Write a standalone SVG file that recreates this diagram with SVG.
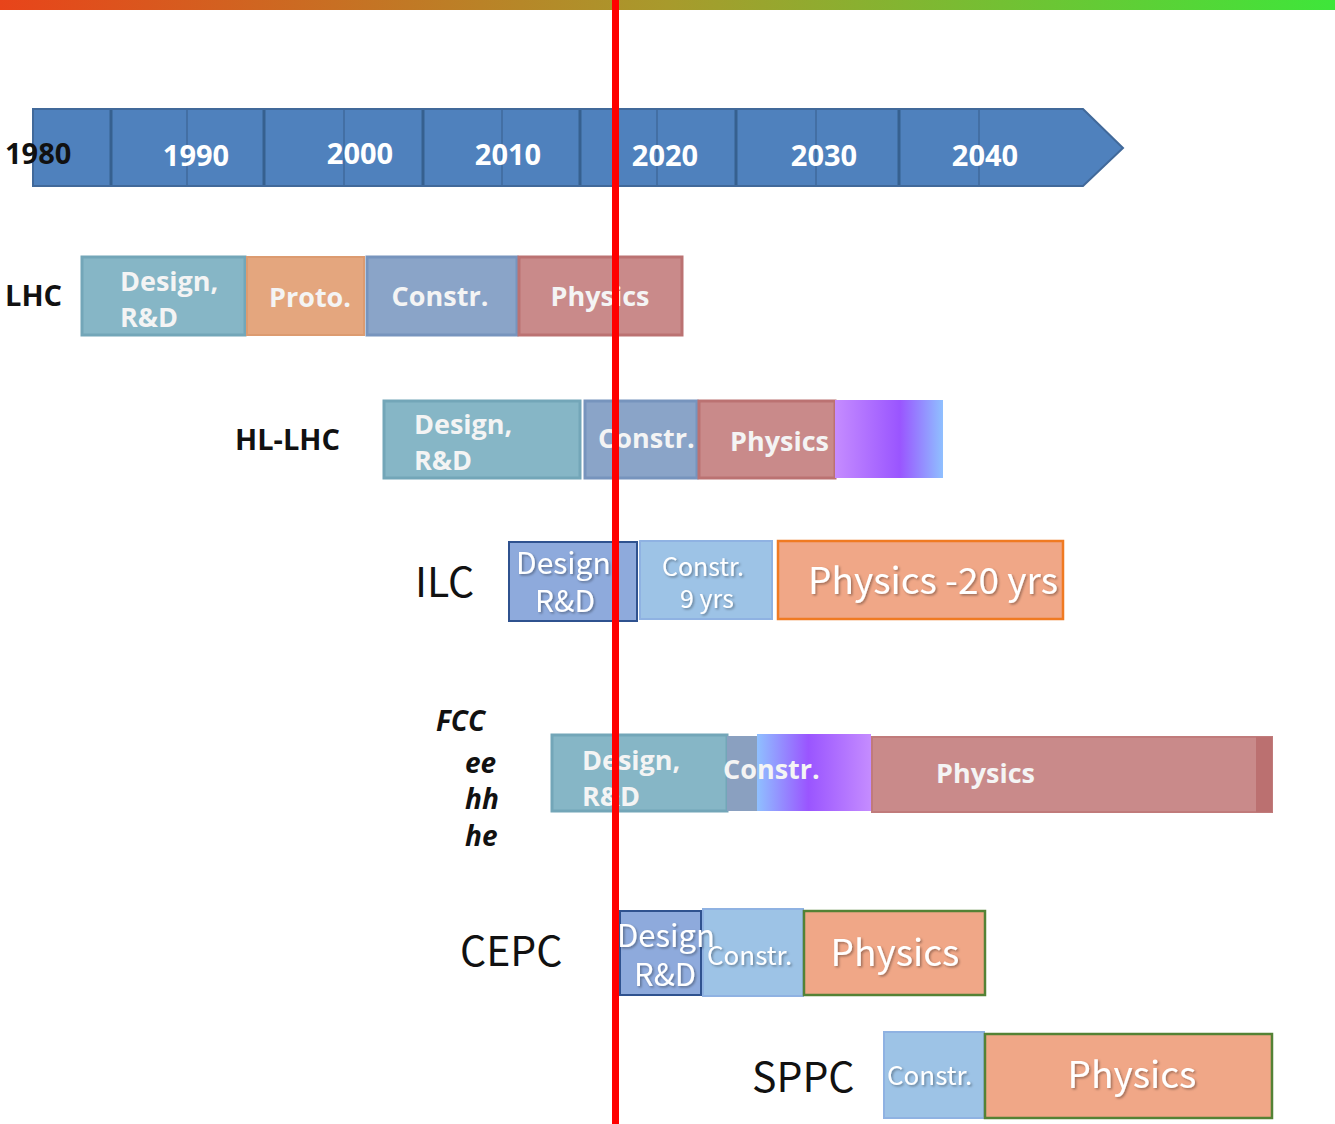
<svg xmlns="http://www.w3.org/2000/svg" width="1335" height="1124" viewBox="0 0 1335 1124">
<defs>
<linearGradient id="topbar" x1="0" y1="0" x2="1" y2="0">
<stop offset="0" stop-color="#e8441a"/>
<stop offset="0.5" stop-color="#a89a2c"/>
<stop offset="1" stop-color="#3ee63a"/>
</linearGradient>
<linearGradient id="gradHL" x1="0" y1="0" x2="1" y2="0">
<stop offset="0" stop-color="#c58cff"/>
<stop offset="0.6" stop-color="#9a55ff"/>
<stop offset="1" stop-color="#8fc0ff"/>
</linearGradient>
<linearGradient id="gradFCC" x1="0" y1="0" x2="1" y2="0">
<stop offset="0" stop-color="#8fc0ff"/>
<stop offset="0.45" stop-color="#9a55ff"/>
<stop offset="1" stop-color="#c58cff"/>
</linearGradient>
<filter id="sh" x="-10%" y="-10%" width="120%" height="130%">
<feDropShadow dx="1.5" dy="1.5" stdDeviation="1" flood-color="#000" flood-opacity="0.35"/>
</filter>
<style>
.yr{font-family:"Open Sans","Liberation Sans",sans-serif;font-weight:700;font-size:29px;fill:#fff}
.lbl{font-family:"Open Sans","Liberation Sans",sans-serif;font-weight:700;font-size:29px;fill:#111}
.bt{font-family:"Open Sans","Liberation Sans",sans-serif;font-weight:700;font-size:27px;fill:#f4f4f4}
.big{font-family:"Noto Sans CJK KR","Noto Sans",sans-serif;font-weight:400;font-size:41px;fill:#111}
.wt{font-family:"Noto Sans CJK KR","Noto Sans",sans-serif;font-weight:400;fill:#fff;filter:url(#sh)}
.it{font-family:"Open Sans","Liberation Sans",sans-serif;font-weight:700;font-style:italic;font-size:28px;fill:#111}
.teal{fill:#86b6c6;stroke:#73a6b8;stroke-width:3}
.tan{fill:#e4a67e;stroke:#dc9b70;stroke-width:2}
.bg{fill:#8aa4c8;stroke:#7794bd;stroke-width:3}
.ros{fill:#c98a8a;stroke:#bb7272;stroke-width:3}
.dblue{fill:#8eaadc;stroke:#2f528f;stroke-width:2}
.lblue{fill:#9dc3e6;stroke:#8fb2e2;stroke-width:2}
.salo{fill:#f0a787;stroke:#f07a22;stroke-width:2.5}
.salg{fill:#f0a787;stroke:#548235;stroke-width:2.5}
.div1{stroke:#36608f;stroke-width:3}
.div2{stroke:#3f6a9c;stroke-width:1.5}
</style>
</defs>
<rect x="0" y="0" width="1335" height="1124" fill="#fff"/>
<rect x="0" y="0" width="1335" height="10" fill="url(#topbar)"/>

<g id="timeline">
<path d="M33,109 L1083,109 L1123,148 L1083,186 L33,186 Z" fill="#4f81bd" stroke="#41699a" stroke-width="2"/>
<g>
<line class="div1" x1="111" y1="110" x2="111" y2="185"/>
<line class="div2" x1="187" y1="110" x2="187" y2="185"/>
<line class="div1" x1="264" y1="110" x2="264" y2="185"/>
<line class="div2" x1="344" y1="110" x2="344" y2="185"/>
<line class="div1" x1="423" y1="110" x2="423" y2="185"/>
<line class="div2" x1="502" y1="110" x2="502" y2="185"/>
<line class="div1" x1="580" y1="110" x2="580" y2="185"/>
<line class="div2" x1="657" y1="110" x2="657" y2="185"/>
<line class="div1" x1="736" y1="110" x2="736" y2="185"/>
<line class="div2" x1="816" y1="110" x2="816" y2="185"/>
<line class="div1" x1="899" y1="110" x2="899" y2="185"/>
<line class="div2" x1="979" y1="110" x2="979" y2="185"/>
</g>
<text x="5" y="164" class="lbl">1980</text>
<text x="196" y="166" class="yr" text-anchor="middle">1990</text>
<text x="360" y="164" class="yr" text-anchor="middle">2000</text>
<text x="508" y="165" class="yr" text-anchor="middle">2010</text>
<text x="665" y="166" class="yr" text-anchor="middle">2020</text>
<text x="824" y="166" class="yr" text-anchor="middle">2030</text>
<text x="985" y="166" class="yr" text-anchor="middle">2040</text>
</g>

<g id="lhc">
<text x="5" y="306" class="lbl">LHC</text>
<rect class="teal" x="82" y="257" width="163" height="78"/>
<rect class="tan" x="247" y="257" width="117" height="78"/>
<rect class="bg" x="367" y="257" width="150" height="78"/>
<rect class="ros" x="519" y="257" width="163" height="78"/>
<text x="120" y="291" class="bt">Design,</text>
<text x="120" y="327" class="bt">R&amp;D</text>
<text x="310" y="307" class="bt" text-anchor="middle">Proto.</text>
<text x="440" y="306" class="bt" text-anchor="middle">Constr.</text>
<text x="600" y="306" class="bt" text-anchor="middle">Physics</text>
</g>

<g id="hl-lhc">
<text x="235" y="450" class="lbl">HL-LHC</text>
<rect class="teal" x="384" y="401" width="196" height="77"/>
<rect class="bg" x="585" y="401" width="112" height="77"/>
<rect class="ros" x="699" y="401" width="136" height="77"/>
<rect x="835" y="400" width="108" height="78" fill="url(#gradHL)"/>
<text x="414" y="434" class="bt">Design,</text>
<text x="414" y="470" class="bt">R&amp;D</text>
<text x="598" y="448" class="bt">Constr.</text>
<text x="730" y="451" class="bt">Physics</text>
</g>

<g id="ilc">
<text x="415" y="597" class="big">ILC</text>
<rect class="dblue" x="509" y="542" width="128" height="79"/>
<rect class="lblue" x="640" y="541" width="132" height="78"/>
<rect class="salo" x="778" y="541" width="285" height="78"/>
<text x="516" y="574" class="wt" font-size="30">Design</text>
<text x="565" y="612" class="wt" font-size="30" text-anchor="middle">R&amp;D</text>
<text x="703" y="576" class="wt" font-size="25" text-anchor="middle">Constr.</text>
<text x="707" y="608" class="wt" font-size="25" text-anchor="middle">9 yrs</text>
<text x="808" y="594" class="wt" font-size="37">Physics -20 yrs</text>
</g>

<g id="fcc">
<text x="436" y="731" class="it">FCC</text>
<text x="465" y="773" class="it">ee</text>
<text x="465" y="809" class="it">hh</text>
<text x="465" y="846" class="it">he</text>
<rect class="teal" x="552" y="735" width="175" height="76"/>
<rect x="727" y="736" width="30" height="75" fill="#8aa0c0"/>
<rect x="757" y="734" width="114" height="77" fill="url(#gradFCC)"/>
<rect x="872" y="737" width="400" height="75" fill="#c98a8a" stroke="#c07b7b" stroke-width="2"/>
<rect x="1256" y="737" width="16" height="75" fill="#bb7070"/>
<text x="582" y="770" class="bt">Design,</text>
<text x="582" y="806" class="bt">R&amp;D</text>
<text x="723" y="779" class="bt">Constr.</text>
<text x="936" y="783" class="bt">Physics</text>
</g>

<g id="cepc">
<text x="460" y="966" class="big">CEPC</text>
<rect class="dblue" x="620" y="911" width="81" height="84"/>
<rect class="lblue" x="703" y="909" width="100" height="87"/>
<rect class="salg" x="804" y="911" width="181" height="84"/>
<text x="617" y="947" class="wt" font-size="31">Design</text>
<text x="665" y="986" class="wt" font-size="31" text-anchor="middle">R&amp;D</text>
<text x="707" y="965" class="wt" font-size="26">Constr.</text>
<text x="895" y="966" class="wt" font-size="37" text-anchor="middle">Physics</text>
</g>

<g id="sppc">
<text x="752" y="1092" class="big">SPPC</text>
<rect class="lblue" x="884" y="1032" width="100" height="86"/>
<rect class="salg" x="985" y="1034" width="287" height="84"/>
<text x="887" y="1085" class="wt" font-size="26">Constr.</text>
<text x="1132" y="1088" class="wt" font-size="37" text-anchor="middle">Physics</text>
</g>

<g id="connectors">
<line x1="615.5" y1="0" x2="615.5" y2="1124" stroke="#ff0000" stroke-width="7"/>
</g>
</svg>
